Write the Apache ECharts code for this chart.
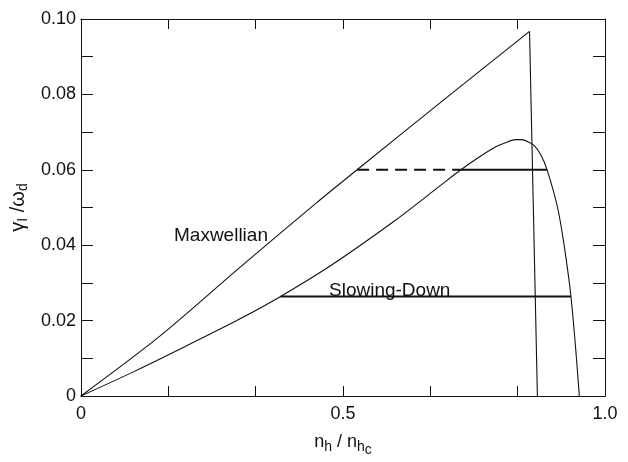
<!DOCTYPE html>
<html>
<head>
<meta charset="utf-8">
<script src="https://cdn.jsdelivr.net/npm/echarts@6/dist/echarts.min.js"></script>
<style>
  html, body { margin: 0; padding: 0; background: #fff; }
  #chart { width: 628px; height: 462px; }
</style>
</head>
<body>
<div id="chart"></div>
<script>
// curves: [n_h/n_hc, gamma_I/omega_d]
const maxwellian = [
	[0, 0], [0.15, 0.0158], [0.3, 0.0337], [0.45, 0.0513], [0.527, 0.06],
	[0.7, 0.0794], [0.856, 0.0967], [0.871, 0]
];
const slowingDown = [
	[0, 0], [0.1, 0.0064], [0.2, 0.0132], [0.3, 0.0202], [0.381, 0.0264],
	[0.479, 0.0348], [0.6, 0.0466], [0.6875, 0.056], [0.725, 0.06],
	[0.76, 0.0634], [0.79, 0.066], [0.81, 0.0672], [0.83, 0.068],
	[0.84, 0.068], [0.855, 0.0673], [0.865, 0.0664], [0.877, 0.0641],
	[0.8895, 0.06], [0.9095, 0.05], [0.922, 0.04], [0.932, 0.03],
	[0.935, 0.0264], [0.9395, 0.02], [0.9455, 0.01], [0.951, 0]
];
// horizontal levels
const upperDashed = [[0.527, 0.06], [0.725, 0.06]];
const upperSolid = [[0.725, 0.06], [0.8895, 0.06]];
const lowerSolid = [[0.381, 0.0264], [0.935, 0.0264]];

const xTickLabels = { '0': '0', '0.5': '0.5', '1': '1.0' };
const yTickLabels = { '0': '0', '0.02': '0.02', '0.04': '0.04', '0.06': '0.06', '0.08': '0.08', '0.1': '0.10' };

const FONT = 'Liberation Sans';
const INK = '#111';

function pickLabel(table, v) {
	for (const k in table) {
		if (Math.abs(parseFloat(k) - v) < 1e-6) return table[k];
	}
	return '';
}

const chart = echarts.init(document.getElementById('chart'));

const baseX = {
	type: 'value', min: 0, max: 1, interval: 1 / 6,
	splitLine: { show: false },
	axisLine: { onZero: false, lineStyle: { color: INK, width: 1 } },
	axisTick: { inside: true, length: 10, lineStyle: { color: INK } }
};
const baseY = {
	type: 'value', min: 0, max: 0.1, interval: 0.01,
	splitLine: { show: false },
	axisLine: { onZero: false, lineStyle: { color: INK, width: 1 } },
	axisTick: { inside: true, length: 12, lineStyle: { color: INK } }
};

const thin = { color: INK, width: 1.1 };
const thick = { color: INK, width: 2 };

const option = {
	animation: false,
	backgroundColor: '#fff',
	grid: { left: 77, right: 23, top: 19, bottom: 51 },
	xAxis: [
		Object.assign({}, baseX, {
			position: 'bottom',
			axisLabel: {
				color: INK, fontFamily: FONT, fontSize: 18, margin: 9,
				formatter: v => pickLabel(xTickLabels, v)
			},
			name: '{a|n}{s|h}{a| / n}{h|h}{c|c}',
			nameLocation: 'middle',
			nameGap: 31,
			nameTextStyle: {
				fontFamily: FONT, color: INK,
				rich: {
					a: { fontFamily: FONT, fontSize: 18, color: INK, lineHeight: 30 },
					s: { fontFamily: FONT, fontSize: 14, color: INK, lineHeight: 14, verticalAlign: 'bottom', padding: [0, 0, 3, 0] },
					h: { fontFamily: FONT, fontSize: 14, color: INK, lineHeight: 14, verticalAlign: 'bottom', padding: [0, 0, 3, 0] },
					c: { fontFamily: FONT, fontSize: 14, color: INK, lineHeight: 14, verticalAlign: 'bottom' }
				}
			}
		}),
		Object.assign({}, baseX, { position: 'top', axisLabel: { show: false } })
	],
	yAxis: [
		Object.assign({}, baseY, {
			position: 'left',
			axisLabel: {
				color: INK, fontFamily: FONT, fontSize: 18, margin: 5,
				formatter: v => pickLabel(yTickLabels, v)
			},
			name: '{a|γ}{s|I}{a| /ω}{s|d}',
			nameLocation: 'middle',
			nameGap: 45,
			nameTextStyle: {
				fontFamily: FONT, color: INK,
				rich: {
					a: { fontFamily: FONT, fontSize: 20, color: INK, lineHeight: 24 },
					s: { fontFamily: FONT, fontSize: 14, color: INK, lineHeight: 14, verticalAlign: 'bottom' }
				}
			}
		}),
		Object.assign({}, baseY, { position: 'right', axisLabel: { show: false } })
	],
	series: [
		{ type: 'line', data: maxwellian.slice(0, -1), smooth: 0.3, showSymbol: false, lineStyle: thin },
		{ type: 'line', data: maxwellian.slice(-2), showSymbol: false, lineStyle: thin },
		{ type: 'line', data: slowingDown, smooth: 0.3, showSymbol: false, lineStyle: thin },
		{ type: 'line', data: upperDashed, showSymbol: false, lineStyle: { color: INK, width: 2, type: [12, 7] } },
		{ type: 'line', data: upperSolid, showSymbol: false, lineStyle: thick },
		{ type: 'line', data: lowerSolid, showSymbol: false, lineStyle: thick }
	],
	graphic: [
		{ type: 'text', left: 174, top: 226, style: { text: 'Maxwellian', fontFamily: FONT, fontSize: 19, fill: INK } },
		{ type: 'text', left: 329, top: 281, style: { text: 'Slowing-Down', fontFamily: FONT, fontSize: 19, fill: INK } }
	]
};

chart.setOption(option);
</script>
</body>
</html>
